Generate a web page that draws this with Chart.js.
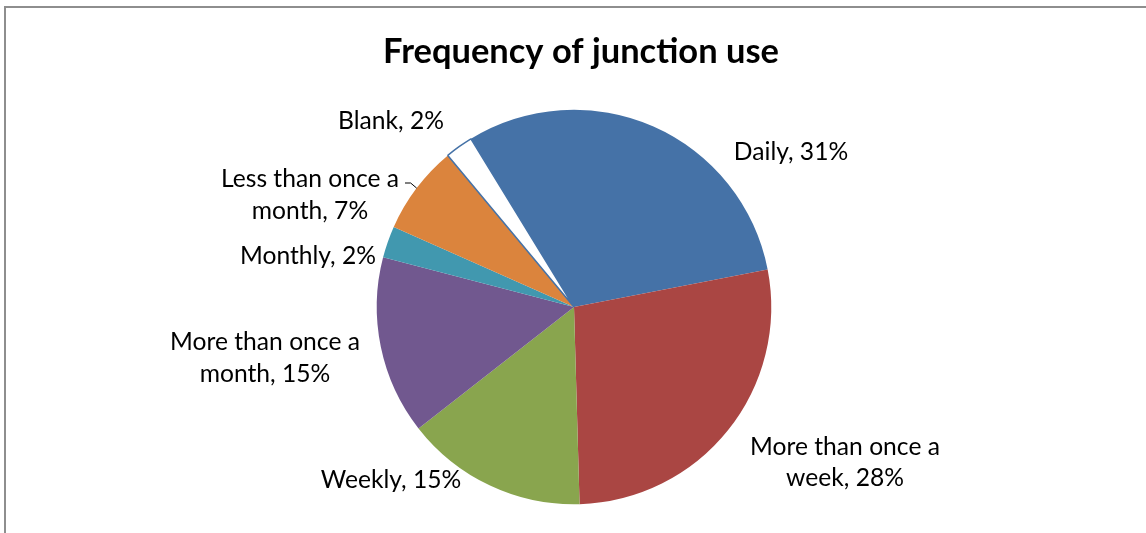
<!DOCTYPE html>
<html>
<head>
<meta charset="utf-8">
<script src="https://cdn.jsdelivr.net/npm/chart.js@4/dist/chart.umd.min.js"></script>
<style>
	html, body { margin: 0; padding: 0; background: #fff; }
	#wrap { width: 1146px; height: 533px; }
</style>
</head>
<body>
<div id="wrap"><canvas id="pie-chart" width="1146" height="533"></canvas></div>
<script>

// data
const categories = ['Daily', 'More than once a week', 'Weekly', 'More than once a month', 'Monthly', 'Less than once a month', 'Blank'];
const shares = [30.7, 27.6, 14.9, 14.6, 2.6, 7.3, 2.3];
const shownPercent = ['31%', '28%', '15%', '15%', '2%', '7%', '2%'];
const chartTitle = 'Frequency of junction use';

const sliceColors = ['#4572A7', '#AA4643', '#89A54E', '#71588F', '#4198AF', '#DB843D', '#FFFFFF'];
const sliceBorders = ['#4572A7', '#AA4643', '#89A54E', '#71588F', '#4198AF', '#DB843D', '#4572A7'];
const sliceBorderWidths = [0, 0, 0, 0, 0, 0, 1.5];

// where each data label sits (lines as wrapped in the original, x centre, baselines)
const labelLayout = [
	{ lines: ['Daily, 31%'], x: 791, y: [160] },
	{ lines: ['More than once a', 'week, 28%'], x: 845, y: [455, 486] },
	{ lines: ['Weekly, 15%'], x: 391, y: [488] },
	{ lines: ['More than once a', 'month, 15%'], x: 265, y: [350, 382] },
	{ lines: ['Monthly, 2%'], x: 308, y: [264] },
	{ lines: ['Less than once a', 'month, 7%'], x: 310, y: [187, 219], leader: true },
	{ lines: ['Blank, 2%'], x: 391, y: [129] }
];

const FONT_FAMILY = 'Lato, "Open Sans", sans-serif';

function fit_font_size(ctx, text, weight, targetWidth) {
	ctx.font = weight + ' 20px ' + FONT_FAMILY;
	const w = ctx.measureText(text).width;
	return 20 * targetWidth / w;
}

const decorPlugin = {
	id: 'decor',
	beforeDraw(chart) {
		const ctx = chart.ctx;
		ctx.save();
		ctx.fillStyle = '#fff';
		ctx.fillRect(0, 0, chart.width, chart.height);
		// the chart frame, cut off on the right and bottom
		ctx.strokeStyle = '#8E8E8E';
		ctx.lineWidth = 2;
		ctx.beginPath();
		ctx.moveTo(5, chart.height + 5);
		ctx.lineTo(5, 7);
		ctx.lineTo(chart.width + 5, 7);
		ctx.stroke();
		ctx.restore();
	},
	afterDraw(chart) {
		const ctx = chart.ctx;
		ctx.save();

		// title
		const titleSize = fit_font_size(ctx, chartTitle, 'bold', 396);
		ctx.font = 'bold ' + titleSize + 'px ' + FONT_FAMILY;
		ctx.fillStyle = '#000';
		ctx.textAlign = 'center';
		ctx.textBaseline = 'alphabetic';
		ctx.fillText(chartTitle, 581, 63);

		// data labels
		const labelSize = fit_font_size(ctx, 'More than once a', 'normal', 190);
		ctx.font = labelSize + 'px ' + FONT_FAMILY;
		const arcs = chart.getDatasetMeta(0).data;

		labelLayout.forEach(function (lab, i) {
			lab.lines.forEach(function (line, k) {
				ctx.fillText(line, lab.x, lab.y[k]);
			});

			if (lab.leader) {
				// leader line from the end of the first text line to the slice edge
				const arc = arcs[i];
				const p = arc.getProps(['x', 'y', 'startAngle', 'endAngle', 'outerRadius'], true);
				const mid = (p.startAngle + p.endAngle) / 2;
				const ex = p.x + Math.cos(mid) * p.outerRadius;
				const ey = p.y + Math.sin(mid) * p.outerRadius;
				const half = ctx.measureText(lab.lines[0]).width / 2;
				const sx = lab.x + half + 6;
				const sy = lab.y[0] - 4;
				ctx.strokeStyle = '#000';
				ctx.lineWidth = 1;
				ctx.beginPath();
				ctx.moveTo(sx, sy);
				ctx.lineTo(ex - 6, sy);
				ctx.lineTo(ex, ey);
				ctx.stroke();
			}
		});

		ctx.restore();
	}
};

const pie_ctx = document.getElementById('pie-chart');

new Chart(pie_ctx, {
	type: 'pie',
	data: {
		labels: categories,
		datasets: [{
			data: shares,
			backgroundColor: sliceColors,
			borderColor: sliceBorders,
			borderWidth: sliceBorderWidths,
			hoverOffset: 0
		}]
	},
	options: {
		responsive: false,
		animation: false,
		rotation: -31.5,
		layout: {
			padding: { left: 376, right: 374, top: 109, bottom: 28 }
		},
		plugins: {
			legend: { display: false },
			title: { display: false },
			tooltip: { enabled: false }
		}
	},
	plugins: [decorPlugin]
});
</script>
</body>
</html>
